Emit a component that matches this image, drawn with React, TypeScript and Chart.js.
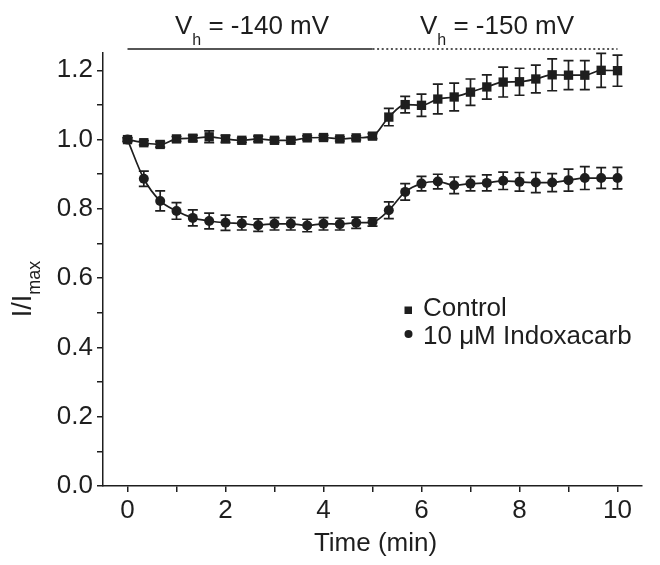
import React, { useEffect, useRef } from "react";
import { Chart, registerables } from "chart.js";

Chart.register(...registerables);

// Time points (min)
const timeMin = [
  0, 0.333, 0.667, 1, 1.333, 1.667, 2, 2.333, 2.667, 3, 3.333, 3.667, 4, 4.333, 4.667, 5,
  5.333, 5.667, 6, 6.333, 6.667, 7, 7.333, 7.667, 8, 8.333, 8.667, 9, 9.333, 9.667, 10,
];

const controlValues = [
  1.0, 0.991, 0.986, 1.002, 1.004, 1.008, 1.002, 0.998, 1.002, 0.998, 0.998, 1.005, 1.006, 1.002, 1.005, 1.01,
  1.065, 1.101, 1.099, 1.117, 1.123, 1.137, 1.152, 1.166, 1.167, 1.175, 1.187, 1.186, 1.186, 1.2, 1.199,
];
const controlErrors = [
  0.005, 0.006, 0.008, 0.007, 0.008, 0.017, 0.01, 0.006, 0.008, 0.006, 0.006, 0.006, 0.006, 0.006, 0.006, 0.007,
  0.025, 0.024, 0.032, 0.043, 0.04, 0.038, 0.035, 0.043, 0.039, 0.04, 0.046, 0.042, 0.042, 0.049, 0.045,
];

const indoxValues = [
  1.0, 0.887, 0.823, 0.794, 0.774, 0.765, 0.76, 0.758, 0.753, 0.757, 0.757, 0.752, 0.757, 0.756, 0.76, 0.762,
  0.796, 0.849, 0.873, 0.879, 0.868, 0.873, 0.875, 0.881, 0.878, 0.876, 0.876, 0.883, 0.889, 0.889, 0.889,
];
const indoxErrors = [
  0.006, 0.022, 0.029, 0.024, 0.023, 0.023, 0.022, 0.019, 0.018, 0.018, 0.018, 0.018, 0.018, 0.017, 0.016, 0.012,
  0.024, 0.024, 0.021, 0.021, 0.024, 0.021, 0.023, 0.025, 0.027, 0.029, 0.026, 0.032, 0.033, 0.03, 0.031,
];

const seriesLabels = ["Control", "10 \u03bcM Indoxacarb"];
const xTickValues = [0, 1, 2, 3, 4, 5, 6, 7, 8, 9, 10];
const yTickValues = [0, 0.1, 0.2, 0.3, 0.4, 0.5, 0.6, 0.7, 0.8, 0.9, 1.0, 1.1, 1.2];
const xTitle = "Time (min)";
const yTitleMain = "I/I";
const yTitleSub = "max";
// Holding-potential annotations
const holdSegments = [
  { start: 0, end: 5, value: "-140", dotted: false },
  { start: 5, end: 10, value: "-150", dotted: true },
];

const INK = "#1e1e1e";
const FONT = "'Liberation Sans', Arial, Helvetica, sans-serif";
const FS = 26;

const errorBarPlugin = {
  id: "errorBars",
  afterDatasetsDraw(chart: any) {
    const ctx = chart.ctx;
    const xs = chart.scales.x;
    const ys = chart.scales.y;
    const errs = [controlErrors, indoxErrors];
    const vals = [controlValues, indoxValues];
    ctx.save();
    ctx.strokeStyle = INK;
    ctx.lineWidth = 1.7;
    for (let d = 0; d < 2; d++) {
      for (let i = 0; i < timeMin.length; i++) {
        const px = xs.getPixelForValue(timeMin[i]);
        const top = ys.getPixelForValue(vals[d][i] + errs[d][i]);
        const bot = ys.getPixelForValue(vals[d][i] - errs[d][i]);
        ctx.beginPath();
        ctx.moveTo(px, top);
        ctx.lineTo(px, bot);
        ctx.moveTo(px - 5, top);
        ctx.lineTo(px + 5, top);
        ctx.moveTo(px - 5, bot);
        ctx.lineTo(px + 5, bot);
        ctx.stroke();
      }
    }
    ctx.restore();
  },
};

const annotPlugin = {
  id: "annots",
  afterDraw(chart: any) {
    const ctx = chart.ctx;
    const xs = chart.scales.x;
    ctx.save();
    ctx.fillStyle = INK;
    ctx.strokeStyle = INK;
    const lineY = 49;
    for (const seg of holdSegments) {
      const x1 = xs.getPixelForValue(seg.start);
      const x2 = xs.getPixelForValue(seg.end);
      ctx.beginPath();
      ctx.lineWidth = 1.6;
      ctx.setLineDash(seg.dotted ? [2, 2.6] : []);
      ctx.moveTo(x1, lineY);
      ctx.lineTo(x2, lineY);
      ctx.stroke();
      ctx.setLineDash([]);
      const mainFont = `${FS}px ${FONT}`;
      const subFont = `16px ${FONT}`;
      const rest = ` = ${seg.value} mV`;
      ctx.font = mainFont;
      const wV = ctx.measureText("V").width;
      const wRest = ctx.measureText(rest).width;
      ctx.font = subFont;
      const wSub = ctx.measureText("h").width;
      const total = wV + wSub + wRest;
      const cx = (x1 + x2) / 2 + 2;
      let x = cx - total / 2;
      ctx.textBaseline = "alphabetic";
      ctx.textAlign = "left";
      ctx.font = mainFont;
      ctx.fillText("V", x, 34);
      x += wV;
      ctx.font = subFont;
      ctx.fillText("h", x, 45);
      x += wSub;
      ctx.font = mainFont;
      ctx.fillText(rest, x, 34);
    }
    // x title
    ctx.font = `${FS}px ${FONT}`;
    ctx.textAlign = "center";
    ctx.fillText(xTitle, (chart.chartArea.left + chart.chartArea.right) / 2 + 3, 551);
    // y title
    ctx.save();
    ctx.translate(31, 289);
    ctx.rotate(-Math.PI / 2);
    ctx.font = `27px ${FONT}`;
    const wm = ctx.measureText(yTitleMain).width;
    ctx.font = `18px ${FONT}`;
    const ws = ctx.measureText(yTitleSub).width;
    let tx = -(wm + ws) / 2;
    ctx.textAlign = "left";
    ctx.font = `27px ${FONT}`;
    ctx.fillText(yTitleMain, tx, 0);
    tx += wm;
    ctx.font = `18px ${FONT}`;
    ctx.fillText(yTitleSub, tx, 9);
    ctx.restore();
    // legend
    ctx.font = `${FS}px ${FONT}`;
    ctx.textAlign = "left";
    ctx.fillRect(404.5, 306.5, 7.5, 7.5);
    ctx.fillText(seriesLabels[0], 423, 316);
    ctx.beginPath();
    ctx.arc(408.5, 334, 4, 0, Math.PI * 2);
    ctx.fill();
    ctx.fillText(seriesLabels[1], 423, 344);
    ctx.restore();
  },
};

export default function App() {
  const ref = useRef<HTMLCanvasElement>(null);
  useEffect(() => {
    if (!ref.current) return;
    const mk = (vals: number[]) => timeMin.map((t, i) => ({ x: t, y: vals[i] }));
    const chart = new Chart(ref.current, {
      type: "scatter",
      data: {
        datasets: [
          {
            label: seriesLabels[0],
            data: mk(controlValues),
            showLine: true,
            borderColor: INK,
            backgroundColor: INK,
            borderWidth: 1.7,
            pointStyle: "rect",
            pointRadius: 6.6,
            pointBorderWidth: 0,
            cubicInterpolationMode: "monotone",
          },
          {
            label: seriesLabels[1],
            data: mk(indoxValues),
            showLine: true,
            borderColor: INK,
            backgroundColor: INK,
            borderWidth: 1.7,
            pointStyle: "circle",
            pointRadius: 5,
            pointBorderWidth: 0,
            cubicInterpolationMode: "monotone",
          },
        ],
      },
      options: {
        animation: false,
        responsive: true,
        maintainAspectRatio: false,
        layout: { padding: { top: 53, right: 18, left: 0, bottom: 0 } },
        plugins: { legend: { display: false }, tooltip: { enabled: false } },
        scales: {
          x: {
            type: "linear",
            min: -0.5,
            max: 10.5,
            afterBuildTicks: (s: any) => {
              s.ticks = xTickValues.map((v) => ({ value: v }));
            },
            afterFit: (s: any) => {
              s.height = 79;
            },
            ticks: {
              autoSkip: false,
              maxRotation: 0,
              padding: 3,
              color: INK,
              font: { family: FONT, size: FS },
              callback: (v: any) => (Number(v) % 2 === 0 ? String(v) : ""),
            },
            grid: { display: true, drawOnChartArea: false, tickLength: 6, color: INK, lineWidth: 1.5 },
            border: { display: true, color: INK, width: 1.5 },
          },
          y: {
            type: "linear",
            min: 0,
            max: 1.25,
            afterBuildTicks: (s: any) => {
              s.ticks = yTickValues.map((v) => ({ value: v }));
            },
            afterFit: (s: any) => {
              s.width = 103;
            },
            ticks: {
              autoSkip: false,
              padding: 4,
              color: INK,
              font: { family: FONT, size: FS },
              callback: (v: any) => {
                const k = Math.round(Number(v) * 10);
                return k % 2 === 0 ? (k / 10).toFixed(1) : "";
              },
            },
            grid: { display: true, drawOnChartArea: false, tickLength: 6, color: INK, lineWidth: 1.5 },
            border: { display: true, color: INK, width: 1.5 },
          },
        },
      },
      plugins: [errorBarPlugin, annotPlugin],
    } as any);
    return () => chart.destroy();
  }, []);
  return (
    <div style={{ position: "absolute", left: 0, top: 0, width: 660, height: 565, background: "#fff" }}>
      <canvas ref={ref} />
    </div>
  );
}
